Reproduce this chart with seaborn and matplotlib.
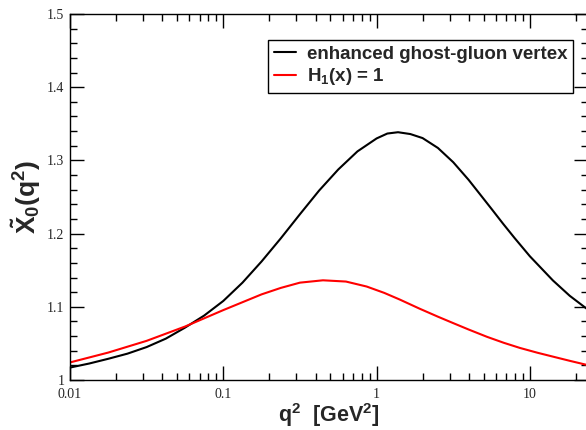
import numpy as np
import pandas as pd
import seaborn as sns
import matplotlib.pyplot as plt
from matplotlib.ticker import FixedLocator, LogLocator, MultipleLocator, FuncFormatter, NullFormatter

# curve values (q^2 in GeV^2)
q2_vertex = [0.01, 0.01334, 0.01778, 0.02371, 0.03162, 0.04217, 0.05623, 0.07499,
             0.1, 0.1334, 0.1778, 0.2371, 0.3162, 0.4217, 0.5623, 0.7499,
             1.0, 1.175, 1.380, 1.660, 1.995, 2.512, 3.162, 3.981,
             4.732, 5.623, 6.683, 7.943, 10.0, 14.13, 18.20, 23.44]
x0_vertex = [1.017, 1.0225, 1.029, 1.036, 1.045, 1.0565, 1.0715, 1.088,
             1.108, 1.133, 1.162, 1.1935, 1.2265, 1.2588, 1.2876, 1.3123,
             1.330, 1.3367, 1.3385, 1.336, 1.3305, 1.317, 1.2975, 1.2735,
             1.2536, 1.2337, 1.2135, 1.194, 1.169, 1.136, 1.115, 1.0975]

q2_h1 = [0.01, 0.01778, 0.03162, 0.05623, 0.1, 0.1778, 0.2371, 0.3162,
         0.4467, 0.631, 0.861, 1.122, 1.413, 1.905, 2.512, 3.162,
         3.981, 5.248, 6.761, 8.610, 11.22, 14.22, 18.20, 23.44]
x0_h1 = [1.024, 1.0375, 1.0535, 1.0730, 1.0955, 1.1170, 1.1258, 1.1330,
         1.1362, 1.1345, 1.1277, 1.119, 1.110, 1.0975, 1.0865, 1.0777,
         1.0690, 1.0590, 1.0508, 1.0438, 1.0372, 1.0318, 1.0262, 1.0207]

labels = ["enhanced ghost-gluon vertex", r"H$_{\mathbf{1}}$(x) = 1"]
colors = ["black", "red"]
x_ticks = [0.01, 0.1, 1, 10]

df = pd.concat([
    pd.DataFrame({"q2": q2_vertex, "X0": x0_vertex, "curve": labels[0]}),
    pd.DataFrame({"q2": q2_h1, "X0": x0_h1, "curve": labels[1]}),
])

sns.set_style("ticks")
plt.rcParams["mathtext.fontset"] = "custom"
plt.rcParams["mathtext.rm"] = "Liberation Sans:bold"
plt.rcParams["mathtext.bf"] = "Liberation Sans:bold"
plt.rcParams["mathtext.it"] = "Liberation Sans:bold"

fig = plt.figure(figsize=(5.86, 4.30), dpi=100)
W, H = 586, 430
# axes run past the right edge, as in the cropped reference
ax = fig.add_axes([70 / W, (H - 380) / H, 518.3 / W, 366 / H])

sns.lineplot(data=df, x="q2", y="X0", hue="curve", hue_order=labels,
             palette=colors, linewidth=1.5, sort=True, ax=ax)
for ln in ax.get_lines():
    ln.set_solid_joinstyle("round")

ax.set_xscale("log")
ax.set_xlim(0.01, 10 ** 1.381)
ax.set_ylim(1.0, 1.5)

ax.xaxis.set_major_locator(FixedLocator(x_ticks))
ax.xaxis.set_minor_locator(LogLocator(base=10, subs=np.arange(2, 10), numticks=20))
ax.xaxis.set_major_formatter(FuncFormatter(lambda v, p: f"{v:g}"))
ax.xaxis.set_minor_formatter(NullFormatter())
ax.yaxis.set_major_locator(MultipleLocator(0.1))
ax.yaxis.set_minor_locator(MultipleLocator(0.02))
ax.yaxis.set_major_formatter(FuncFormatter(lambda v, p: f"{v:g}"))

ax.tick_params(which="both", direction="in", top=True, right=True, width=1, color="black")
ax.tick_params(which="major", length=10)
ax.tick_params(which="minor", length=5)
ax.tick_params(axis="x", which="major", pad=6)
ax.tick_params(axis="y", which="major", pad=4)
for lab in ax.get_xticklabels() + ax.get_yticklabels():
    lab.set_fontfamily("Liberation Serif")
    lab.set_fontsize(10)
for s in ax.spines.values():
    s.set_visible(True)
    s.set_linewidth(1.0)
    s.set_color("black")

ax.set_xlabel(r"q$^{\mathbf{2}}$  [GeV$^{\mathbf{2}}$]", fontsize=15.5, fontweight="bold",
              fontfamily="Liberation Sans", labelpad=0)
ax.set_ylabel(r"$\mathbf{\tilde{X}_0(q^2)}$", fontsize=19, fontweight="bold",
              fontfamily="Liberation Sans", labelpad=3)

leg = ax.legend(loc="upper left", bbox_to_anchor=(0.382, 0.929), borderaxespad=0,
                fancybox=False, frameon=True, edgecolor="black", framealpha=1,
                handlelength=1.2, handletextpad=0.6, borderpad=0.3, labelspacing=0.2,
                prop={"family": "Liberation Sans", "weight": "bold", "size": 13.5})
leg.get_frame().set_linewidth(1.0)
leg.set_title(None)

fig.savefig("out.png", dpi=100)
